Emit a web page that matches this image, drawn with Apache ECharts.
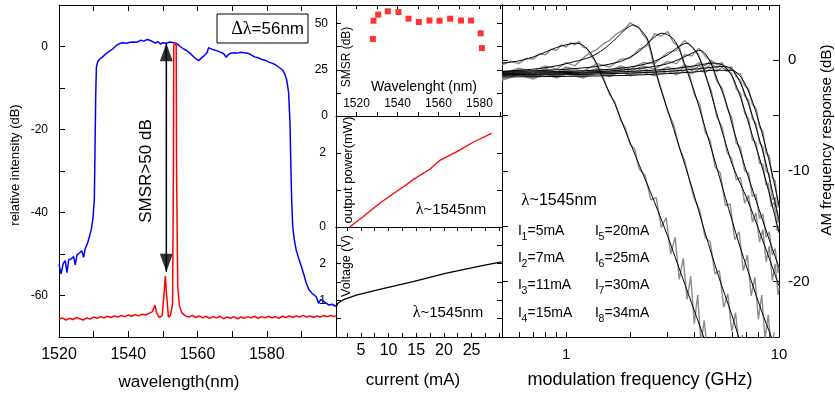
<!DOCTYPE html>
<html>
<head>
<meta charset="utf-8">
<script src="https://cdn.jsdelivr.net/npm/echarts@6/dist/echarts.min.js"></script>
<style>html,body{margin:0;padding:0;background:#fff}#main{width:835px;height:394px}</style>
</head>
<body>
<div id="main"></div>
<script>
// ---- Optical spectrum: broadband (blue) and single-mode lasing (red), [nm, dB]
const spectrumBroadband = [[1520,-52.5],[1520.6,-54.8],[1521.2,-52.3],[1521.8,-51.6],[1522.3,-54.5],[1522.8,-51.4],[1523.5,-51.2],[1524.2,-50.6],[1524.7,-52.6],[1525.2,-50.2],[1526,-49.7],[1526.6,-49.2],[1527.1,-50.8],[1527.6,-48.6],[1528.2,-47.5],[1528.8,-45.8],[1529.3,-44.2],[1529.8,-41.5],[1530.2,-37],[1530.4,-25],[1530.6,-12],[1530.8,-5],[1531.2,-3.6],[1531.8,-3],[1532.6,-2.5],[1533.5,-1.8],[1534.5,-1.2],[1535.5,-0.6],[1536.5,0.2],[1537.5,0.7],[1538.5,0.9],[1539.5,0.8],[1540.5,1.0],[1541.5,1.1],[1542.5,1.0],[1543.5,1.5],[1544.5,1.3],[1545.5,1.7],[1546.2,1.5],[1547,1.2],[1547.8,0.8],[1548.5,1.2],[1549.3,0.6],[1550,0.9],[1551,0.8],[1552,1.1],[1553,0.9],[1554,0.7],[1555,0],[1556,-0.6],[1556.8,-0.9],[1557.8,-1.6],[1558.8,-2.4],[1559.6,-3.0],[1560.4,-3.4],[1561.2,-2.7],[1562,-2.2],[1562.8,-1.4],[1563.2,-0.3],[1563.8,-0.5],[1564.6,-0.8],[1565.5,-1.0],[1566.4,-1.3],[1567.5,-1.7],[1568.3,-2.6],[1568.8,-2.0],[1569.6,-1.6],[1570.5,-1.5],[1571.5,-1.6],[1572.5,-1.4],[1573.5,-1.5],[1574.5,-1.6],[1575.5,-2.0],[1576.5,-2.5],[1577.5,-2.7],[1578.5,-3.1],[1579.5,-3.3],[1580.5,-3.7],[1581.5,-4.0],[1582.5,-4.4],[1583.5,-5.0],[1584.5,-5.6],[1585.2,-6.6],[1585.8,-8.2],[1586.3,-11],[1586.7,-18],[1587,-30],[1587.2,-37],[1587.5,-43.4],[1588,-46.8],[1588.5,-49],[1589.2,-51],[1590,-53],[1590.8,-55.2],[1591.4,-57],[1592.2,-58.6],[1593,-59.4],[1594.3,-60.3],[1595,-61.9],[1595.6,-60.9],[1596.4,-61.4],[1597.2,-61.9],[1598,-62.3],[1598.8,-62.1],[1600,-62.6]];
const spectrumLasing = [[1520,-65.7],[1521,-65.4],[1522,-65.9],[1523,-65.5],[1524,-65.8],[1525,-65.3],[1526,-65.6],[1527,-65.9],[1528,-65.4],[1529,-65.7],[1530,-65.2],[1531,-65.5],[1532,-65.1],[1533,-65.4],[1534,-65.0],[1535,-65.3],[1536,-64.9],[1537,-65.2],[1538,-64.8],[1539,-65.1],[1540,-64.7],[1541,-65.0],[1542,-64.6],[1543,-64.9],[1544,-64.5],[1545,-64.7],[1546,-64.3],[1547,-63.9],[1547.7,-62.3],[1548.2,-64.2],[1549,-65.3],[1549.8,-64.8],[1550.3,-60],[1550.7,-55.3],[1551.1,-60],[1551.6,-65.2],[1552.2,-64.8],[1552.8,-62],[1553.05,-30],[1553.15,0.3],[1553.5,0.8],[1553.85,0.3],[1553.95,-30],[1554.3,-58],[1554.8,-62.5],[1555.5,-64.2],[1556.5,-64.9],[1557.5,-65.2],[1558.5,-64.8],[1559.5,-65.3],[1560.5,-64.9],[1561.5,-65.4],[1562.5,-65.0],[1563.5,-65.5],[1564.5,-65.1],[1565.5,-65.4],[1566.5,-65.0],[1567.5,-65.6],[1568.5,-65.2],[1569.5,-65.5],[1570.5,-65.1],[1571.5,-65.6],[1572.5,-65.2],[1573.5,-65.5],[1574.5,-65.1],[1575.5,-65.4],[1576.5,-65.0],[1577.5,-65.5],[1578.5,-65.1],[1579.5,-65.4],[1580.5,-65.0],[1581.5,-65.4],[1582.5,-65.1],[1583.5,-65.5],[1584.5,-65.0],[1585.5,-65.3],[1586.5,-64.9],[1587.5,-65.3],[1588.5,-64.9],[1589.5,-65.2],[1590.5,-64.8],[1591.5,-65.2],[1592.5,-64.9],[1593.5,-65.3],[1594.5,-64.9],[1595.5,-65.2],[1596.5,-64.8],[1597.5,-65.1],[1598.5,-64.8],[1599.5,-65.1],[1600,-64.9]];
// SMSR arrow: [nm, top dB, bottom dB]
const smsrArrow = [1551, 0.84, -54.3];

// ---- SMSR vs wavelength
const smsrWavelength = [1528,1528.3,1530.6,1535.3,1540.5,1545.4,1550.4,1555.6,1560.5,1565.7,1571,1575.9,1580.6,1581.2];
const smsrValue = [41.6,51.5,54.8,56.6,56.2,52.6,50.8,51.6,51.5,52.6,51.6,51.6,44.7,36.7];

// ---- L-I and V-I
const powerCurrent = [2.97,5.37,8.40,11.42,13.2,14.42,17.44,19.25,22.28,25.28,28.61];
const powerMw = [0,0.28,0.64,0.96,1.14,1.28,1.56,1.80,2.03,2.29,2.53];
const voltageCurrent = [0.5,0.85,1.76,4.18,8.40,14.42,20.47,26.49,30.42];
const voltageV = [0.81,0.92,1.01,1.14,1.30,1.51,1.74,1.93,2.05];

// ---- AM response: bias currents, measured traces and fits, [GHz, dB]
const biasCurrentsMa = [5,7,11,15,20,25,30,34];
const measI1 = [[0.5,-0.4],[0.55,-0.1],[0.6,-0.3],[0.65,0.2],[0.7,0.1],[0.75,0.6],[0.8,0.5],[0.85,1.0],[0.9,0.9],[0.95,1.4],[1.0,1.2],[1.05,1.6],[1.1,1.4],[1.15,1.7],[1.2,1.2],[1.25,1.1],[1.3,0.5],[1.35,0.1],[1.4,-0.6],[1.5,-1.6],[1.6,-3.1],[1.7,-3.8],[1.8,-5.4],[1.9,-6.1],[2.0,-7.6],[2.1,-8.0],[2.2,-9.8],[2.35,-10.4],[2.5,-12.6],[2.65,-12.4],[2.8,-15.1],[2.95,-14.2],[3.1,-17.5],[3.25,-16.0],[3.4,-19.8],[3.55,-17.9],[3.7,-21.6],[3.85,-19.5],[4.0,-23.8],[4.15,-21.2],[4.3,-25.5],[4.45,-23.5],[4.6,-26]];
const measI2 = [[0.5,-1.2],[0.6,-0.7],[0.7,-1.0],[0.8,-0.5],[0.9,-0.8],[1.0,-0.2],[1.1,-0.5],[1.2,0.2],[1.3,0.7],[1.4,1.0],[1.5,1.5],[1.6,1.8],[1.7,2.3],[1.8,2.6],[1.9,2.9],[2.0,3.4],[2.1,3.1],[2.2,3.0],[2.3,2.3],[2.4,1.9],[2.5,0.7],[2.6,-0.6],[2.8,-2.6],[3.0,-4.6],[3.2,-5.8],[3.4,-7.9],[3.6,-9.0],[3.8,-10.9],[4.0,-12.5],[4.25,-13.6],[4.5,-16.0],[4.75,-16.4],[5.0,-19.3],[5.25,-19.0],[5.5,-22.3],[5.75,-21.1],[6.0,-24.5],[6.25,-22.8],[6.5,-26],[6.75,-24.8]];
const measI3 = [[0.5,-1.3],[0.6,-0.8],[0.7,-1.2],[0.8,-0.7],[0.9,-1.1],[1.0,-0.6],[1.2,-1.0],[1.4,-0.3],[1.6,-0.6],[1.8,0.1],[2.0,0.2],[2.2,1.0],[2.4,1.3],[2.6,2.4],[2.8,2.2],[3.0,2.6],[3.2,1.6],[3.4,1.2],[3.6,-0.6],[3.8,-1.3],[4.0,-3.1],[4.25,-4.0],[4.5,-6.5],[4.75,-7.2],[5.0,-9.6],[5.3,-10.2],[5.6,-13.1],[5.9,-13.0],[6.2,-16.2],[6.5,-15.5],[6.8,-19.0],[7.1,-17.6],[7.4,-21.3],[7.7,-19.6],[8.0,-23.4],[8.3,-21.2],[8.6,-25.2],[8.9,-23.0],[9.2,-26],[9.5,-24.6]];
const measI4 = [[0.5,-1.4],[0.6,-0.9],[0.7,-1.3],[0.8,-0.8],[0.9,-1.2],[1.0,-0.8],[1.2,-1.2],[1.4,-0.7],[1.6,-1.0],[1.8,-0.5],[2.0,-0.8],[2.3,-0.2],[2.6,-0.3],[3.0,0.7],[3.3,0.9],[3.6,1.8],[3.9,1.2],[4.2,0.5],[4.5,-1.3],[4.8,-2.7],[5.1,-5.1],[5.4,-6.0],[5.7,-8.3],[6.0,-8.9],[6.3,-10.8],[6.6,-10.6],[6.9,-12.9],[7.2,-12.2],[7.5,-14.6],[7.8,-13.8],[8.1,-16.4],[8.4,-15.3],[8.7,-18.2],[9.0,-16.8],[9.3,-19.9],[9.6,-18.4],[9.9,-21.2],[10,-20.6]];
const measI5 = [[0.5,-1.5],[0.6,-1.0],[0.7,-1.4],[0.8,-0.9],[0.9,-1.3],[1.0,-0.9],[1.2,-1.3],[1.4,-0.8],[1.6,-1.2],[1.8,-0.6],[2.0,-1.0],[2.3,-0.5],[2.6,-0.8],[3.0,-0.1],[3.3,-0.3],[3.6,0.5],[3.9,0.4],[4.2,1.1],[4.5,0.4],[4.8,-0.1],[5.1,-1.9],[5.4,-2.5],[5.7,-4.3],[6.0,-5.2],[6.3,-7.5],[6.6,-7.9],[6.9,-10.0],[7.2,-10.2],[7.5,-12.3],[7.8,-12.1],[8.1,-14.3],[8.4,-13.9],[8.7,-16.0],[9.0,-15.5],[9.3,-17.6],[9.6,-17.0],[9.9,-19.2],[10,-18.6]];
const measI6 = [[0.5,-1.6],[0.6,-1.1],[0.7,-1.5],[0.8,-1.0],[0.9,-1.4],[1.0,-1.0],[1.2,-1.4],[1.4,-0.9],[1.6,-1.3],[1.8,-0.8],[2.0,-1.2],[2.3,-0.7],[2.6,-1.1],[3.0,-0.6],[3.3,-0.9],[3.6,-0.4],[3.9,-0.7],[4.2,-0.2],[4.5,-0.5],[4.8,0.0],[5.1,-0.4],[5.4,-0.2],[5.7,-0.9],[6.0,-1.2],[6.3,-2.6],[6.6,-3.0],[6.9,-4.8],[7.2,-5.3],[7.5,-7.2],[7.8,-7.4],[8.1,-9.3],[8.4,-9.4],[8.7,-11.3],[8.9,-11.1],[9.2,-13.2],[9.5,-12.8],[9.8,-15.4],[10,-15.0]];
const measI7 = [[0.5,-1.7],[0.6,-1.2],[0.7,-1.6],[0.8,-1.1],[0.9,-1.5],[1.0,-1.1],[1.2,-1.5],[1.4,-1.0],[1.6,-1.4],[1.8,-0.9],[2.0,-1.3],[2.3,-0.9],[2.6,-1.2],[3.0,-0.8],[3.3,-1.1],[3.6,-0.6],[3.9,-0.9],[4.2,-0.5],[4.5,-0.8],[4.8,-0.3],[5.1,-0.7],[5.4,-0.3],[5.7,-0.7],[6.0,-0.6],[6.3,-1.5],[6.6,-1.8],[6.9,-3.2],[7.2,-3.6],[7.5,-5.3],[7.8,-5.7],[8.1,-7.5],[8.4,-7.8],[8.7,-10.0],[9.0,-10.3],[9.3,-12.6],[9.6,-12.4],[9.9,-14.7],[10,-14.2]];
const measI8 = [[0.5,-1.8],[0.6,-1.3],[0.7,-1.7],[0.8,-1.2],[0.9,-1.6],[1.0,-1.2],[1.2,-1.6],[1.4,-1.1],[1.6,-1.5],[1.8,-1.0],[2.0,-1.4],[2.3,-1.1],[2.6,-1.4],[3.0,-1.0],[3.3,-1.3],[3.6,-0.9],[3.9,-1.2],[4.2,-0.8],[4.5,-1.1],[4.8,-0.7],[5.1,-1.0],[5.4,-0.6],[5.7,-1.0],[6.0,-0.7],[6.3,-1.2],[6.6,-1.2],[6.9,-2.3],[7.2,-2.6],[7.5,-4.0],[7.8,-4.3],[8.1,-6.0],[8.4,-6.4],[8.7,-8.4],[9.0,-8.6],[9.3,-10.6],[9.6,-10.9],[9.9,-13.3],[10,-12.9]];
const fitI1 = [[0.5,-0.25],[0.6,-0.05],[0.7,0.3],[0.8,0.75],[0.9,1.15],[1.0,1.4],[1.12,1.55],[1.2,1.35],[1.3,0.7],[1.4,-0.4],[1.5,-1.8],[1.7,-4.0],[1.9,-6.4],[2.2,-9.4],[2.6,-12.8],[3.0,-15.9],[3.5,-19.5],[4.0,-22.6],[4.41,-24.9],[4.6,-26]];
const fitI2 = [[0.5,-1.0],[0.7,-0.8],[0.9,-0.5],[1.1,-0.1],[1.3,0.3],[1.5,1.0],[1.7,1.9],[1.9,2.8],[2.07,3.2],[2.25,2.7],[2.4,2.0],[2.5,0.95],[2.7,-1.75],[3.0,-4.5],[3.4,-7.8],[3.9,-11.5],[4.5,-15.6],[5.2,-19.5],[6.0,-23.0],[6.44,-24.9],[6.7,-26]];
const fitI3 = [[0.5,-1.0],[0.7,-0.95],[1.0,-0.8],[1.4,-0.55],[1.8,-0.1],[2.0,0.3],[2.2,0.8],[2.4,1.5],[2.6,2.1],[2.81,2.45],[3.0,2.3],[3.2,1.9],[3.4,1.0],[3.6,-0.3],[3.8,-1.6],[4.0,-2.8],[4.5,-6.1],[5.0,-9.1],[5.6,-12.4],[6.5,-16.6],[7.4,-19.9],[8.3,-22.7],[9.2,-25.0],[9.6,-26]];
const fitI4 = [[0.5,-1.1],[0.7,-1.05],[1.0,-1.0],[1.5,-0.85],[2.0,-0.6],[2.5,-0.2],[3.0,0.5],[3.3,1.1],[3.69,1.55],[4.0,1.0],[4.2,0.3],[4.4,-0.6],[4.6,-1.8],[4.83,-3.2],[5.1,-4.8],[5.38,-6.3],[5.7,-7.9],[6.0,-9.3],[6.5,-10.9],[7.18,-12.8],[8.0,-15.2],[9.0,-17.9],[10.0,-20.4]];
const fitI5 = [[0.5,-1.2],[1.0,-1.1],[1.5,-1.0],[2.0,-0.8],[2.5,-0.6],[3.0,-0.3],[3.5,0.2],[4.0,0.75],[4.26,0.9],[4.5,0.6],[4.8,-0.3],[5.1,-1.6],[5.6,-3.6],[6.15,-6.4],[6.92,-9.6],[7.6,-12.0],[8.5,-14.8],[9.3,-17.0],[10.0,-18.7]];
const fitI6 = [[0.5,-1.3],[1.0,-1.2],[2.0,-1.0],[3.0,-0.8],[4.0,-0.5],[4.6,-0.3],[5.0,-0.25],[5.5,-0.5],[6.0,-1.4],[6.5,-3.0],[7.0,-4.9],[7.5,-6.8],[8.0,-8.5],[8.6,-10.6],[9.3,-13.1],[10.0,-15.6]];
const fitI7 = [[0.5,-1.35],[1.0,-1.3],[2.0,-1.15],[3.0,-1.0],[4.0,-0.8],[5.0,-0.6],[5.6,-0.55],[6.0,-0.8],[6.5,-1.8],[7.0,-3.3],[7.5,-5.0],[8.0,-6.8],[8.6,-9.0],[9.3,-11.8],[10.0,-14.4]];
const fitI8 = [[0.5,-1.5],[1.0,-1.45],[2.0,-1.35],[3.0,-1.2],[4.0,-1.05],[5.0,-0.9],[6.0,-0.9],[6.5,-1.3],[7.0,-2.3],[7.5,-3.7],[8.0,-5.4],[8.6,-7.6],[9.3,-10.3],[10.0,-13.1]];

// ---- Tick values
const spectrumXLabels = [1520,1540,1560,1580];
const spectrumYLabels = [0,-20,-40,-60];
const smsrXLabels = [1520,1540,1560,1580];
const smsrYTicks = [12.5,25,37.5,50];
const smsrYLabels = [0,25,50];
const currentTicks = [2.5,5,7.5,10,12.5,15,17.5,20,22.5,25,27.5,30];
const currentLabels = [5,10,15,20,25];
const powerTicks = [1,2];
const powerLabels = [0,2];
const voltageTicks = [0.5,1,1.5,2,2.5];
const voltageLabels = [1,2];
const freqTicks = [0.5,0.6,0.7,0.8,0.9,1,2,3,4,5,6,7,8,9,10];
const freqLabels = [1,10];
const responseLabels = [0,-10,-20];

const FONT = '"Liberation Sans", Arial, sans-serif';
const SERIF = '"Liberation Serif", "Times New Roman", serif';
const zip = (a, b) => a.map((v, i) => [v, b[i]]);

function axis(o) {
  const base = {
    type: 'value',
    axisLine: { show: true, onZero: false, lineStyle: { color: '#000', width: 1 } },
    axisTick: { show: true, inside: true, length: 5, lineStyle: { color: '#000', width: 1 } },
    axisLabel: { show: false },
    splitLine: { show: false }
  };
  const out = Object.assign({}, base, o);
  out.axisTick = Object.assign({}, base.axisTick, o.axisTick || {});
  out.axisLabel = Object.assign({ color: '#000', fontFamily: FONT, formatter: v => String(v) },
    base.axisLabel, o.axisLabel || {});
  return out;
}

const xAxis = [
  axis({ gridIndex: 0, position: 'bottom', min: 1520, max: 1600, interval: 10, axisTick: { length: 6 },
    axisLabel: { show: true, customValues: spectrumXLabels, fontSize: 16, margin: 10 } }),
  axis({ gridIndex: 0, position: 'top', min: 1520, max: 1600, interval: 10, axisTick: { length: 6 } }),
  axis({ gridIndex: 1, position: 'bottom', min: 1510, max: 1591, interval: 10, axisTick: { length: 4 },
    axisLabel: { show: true, inside: true, customValues: smsrXLabels, fontSize: 12, margin: 6 } }),
  axis({ gridIndex: 1, position: 'top', min: 1510, max: 1591, interval: 10, axisTick: { length: 4 } }),
  axis({ gridIndex: 2, position: 'bottom', min: 0.5, max: 30.5, axisTick: { show: false } }),
  axis({ gridIndex: 3, position: 'top', min: 0.5, max: 30.5, axisTick: { customValues: currentTicks, length: 4 } }),
  axis({ gridIndex: 3, position: 'bottom', min: 0.5, max: 30.5, axisTick: { customValues: currentTicks, length: 4 },
    axisLabel: { show: true, customValues: currentLabels, fontSize: 16, margin: 6 } }),
  axis({ gridIndex: 4, type: 'log', logBase: 10, position: 'bottom', min: 0.5, max: 10,
    axisTick: { customValues: freqTicks, length: 5 },
    axisLabel: { show: true, customValues: freqLabels, fontSize: 15, margin: 10 } }),
  axis({ gridIndex: 4, type: 'log', logBase: 10, position: 'top', min: 0.5, max: 10,
    axisTick: { customValues: freqTicks, length: 5 } })
];

const yAxis = [
  axis({ gridIndex: 0, position: 'left', min: -70, max: 10, interval: 10, axisTick: { length: 6 },
    axisLabel: { show: true, customValues: spectrumYLabels, fontSize: 12, margin: 11 } }),
  axis({ gridIndex: 1, position: 'left', min: 0, max: 60, axisTick: { customValues: smsrYTicks, length: 5 },
    axisLabel: { show: true, customValues: smsrYLabels, fontSize: 12, margin: 8 } }),
  axis({ gridIndex: 1, position: 'right', min: 0, max: 60, axisTick: { customValues: smsrYTicks, length: 5 } }),
  axis({ gridIndex: 2, position: 'left', min: 0, max: 3, axisTick: { customValues: powerTicks, length: 5 },
    axisLabel: { show: true, customValues: powerLabels, fontSize: 12, margin: 10 } }),
  axis({ gridIndex: 2, position: 'right', min: 0, max: 3, axisTick: { customValues: powerTicks, length: 5 } }),
  axis({ gridIndex: 3, position: 'left', min: 0, max: 3, axisTick: { customValues: voltageTicks, length: 5 },
    axisLabel: { show: true, customValues: voltageLabels, fontSize: 12, margin: 10 } }),
  axis({ gridIndex: 3, position: 'right', min: 0, max: 3, axisTick: { customValues: voltageTicks, length: 5 } }),
  axis({ gridIndex: 4, position: 'right', min: -25, max: 5, interval: 5, axisTick: { length: 6 },
    axisLabel: { show: true, customValues: responseLabels, fontSize: 15, margin: 9 } }),
  axis({ gridIndex: 4, position: 'left', min: -25, max: 5, interval: 5, axisTick: { length: 6 } })
];

const lineSeries = (name, data, xi, yi, color, width, extra) => Object.assign({
  name, type: 'line', data, xAxisIndex: xi, yAxisIndex: yi,
  showSymbol: false, symbol: 'none', clip: true, silent: true,
  lineStyle: { color, width }
}, extra || {});

const measured = [measI1, measI2, measI3, measI4, measI5, measI6, measI7, measI8];
const fits = [fitI1, fitI2, fitI3, fitI4, fitI5, fitI6, fitI7, fitI8];

const series = [
  lineSeries('broadband', spectrumBroadband, 0, 0, '#0000ff', 1.5),
  lineSeries('lasing', spectrumLasing, 0, 0, '#ff0000', 1.5),
  lineSeries('smsr-arrow', [[smsrArrow[0], smsrArrow[1]], [smsrArrow[0], smsrArrow[2]]], 0, 0, '#000', 1.5),
  {
    type: 'scatter', xAxisIndex: 0, yAxisIndex: 0, silent: true,
    symbol: 'triangle', symbolSize: [13, 18], itemStyle: { color: '#000' },
    data: [
      { value: [smsrArrow[0], -1.4], symbolRotate: 0 },
      { value: [smsrArrow[0], -52.1], symbolRotate: 180 }
    ]
  },
  {
    type: 'scatter', xAxisIndex: 2, yAxisIndex: 1, silent: true,
    symbol: 'rect', symbolSize: 6, itemStyle: { color: '#ff0000' },
    data: zip(smsrWavelength, smsrValue)
  },
  lineSeries('power', zip(powerCurrent, powerMw), 4, 3, '#ff0000', 1.3),
  lineSeries('voltage', zip(voltageCurrent, voltageV), 6, 5, '#000', 1.3)
];
measured.forEach((d, i) => series.push(lineSeries('meas' + (i + 1), d, 7, 7, '#8c8c8c', 1.4)));
fits.forEach((d, i) => series.push(lineSeries('fit' + (i + 1), d, 7, 7, '#000', 1, { smooth: 0.3 })));

// ---- Text annotations
function txt(x, y, text, size, opts) {
  opts = opts || {};
  return {
    type: 'text', x, y, rotation: opts.rotate ? Math.PI / 2 : 0, silent: true, z: 100,
    style: Object.assign({
      text, fill: '#000', font: size + 'px ' + FONT,
      align: opts.align || 'center', verticalAlign: 'middle'
    }, opts.rich ? { rich: opts.rich } : {})
  };
}
const lambdaRich = size => ({
  g: { fontFamily: SERIF, fontSize: size + 1, fill: '#000' },
  t: { fontFamily: FONT, fontSize: size, fill: '#000' }
});

const graphic = [
  { type: 'rect', shape: { x: 217, y: 14, width: 91, height: 29 }, z: 99, silent: true,
    style: { fill: '#fff', stroke: '#000', lineWidth: 1 } },
  txt(304, 29, '{g|Δλ}{t|=56nm}', 17, { align: 'right', rich: lambdaRich(17) }),
  txt(146.5, 171, 'SMSR>50 dB', 17, { rotate: true }),
  txt(15, 165, 'relative intensity (dB)', 13, { rotate: true }),
  txt(179, 382, 'wavelength(nm)', 17),
  txt(347, 57, 'SMSR (dB)', 12, { rotate: true }),
  txt(424, 87, 'Wavelenght (nm)', 14),
  txt(348, 170, 'output power(mW)', 13, { rotate: true }),
  txt(347, 266, 'Voltage (V)', 12.5, { rotate: true }),
  txt(451, 210, '{g|λ}{t|~1545nm}', 15, { rich: lambdaRich(15) }),
  txt(448, 313, '{g|λ}{t|~1545nm}', 15, { rich: lambdaRich(15) }),
  txt(413, 380, 'current (mA)', 17),
  txt(559, 201, '{g|λ}{t|~1545nm}', 16, { rich: lambdaRich(16) }),
  txt(640, 380, 'modulation frequency (GHz)', 18),
  txt(827, 140, 'AM frequency response (dB)', 15, { rotate: true })
];
const legendRows = [230.7, 258, 285.5, 313];
const legendCols = [518, 595];
biasCurrentsMa.forEach((ma, i) => {
  const x = legendCols[i < 4 ? 0 : 1];
  const y = legendRows[i % 4];
  graphic.push(txt(x, y, 'I', 14, { align: 'left' }));
  graphic.push(txt(x + 3.5, y + 6, String(i + 1), 10.5, { align: 'left' }));
  graphic.push(txt(x + 9.5, y, '=' + ma + 'mA', 14, { align: 'left' }));
});

const chart = echarts.init(document.getElementById('main'), null, { renderer: 'canvas' });
chart.setOption({
  animation: false,
  backgroundColor: '#fff',
  grid: [
    { left: 59, top: 5, width: 277, height: 332 },
    { left: 336, top: 5, width: 166, height: 111 },
    { left: 336, top: 116, width: 166, height: 111 },
    { left: 336, top: 227, width: 166, height: 110 },
    { left: 502, top: 5, width: 277, height: 332 }
  ],
  xAxis, yAxis, series, graphic
});
</script>
</body>
</html>
